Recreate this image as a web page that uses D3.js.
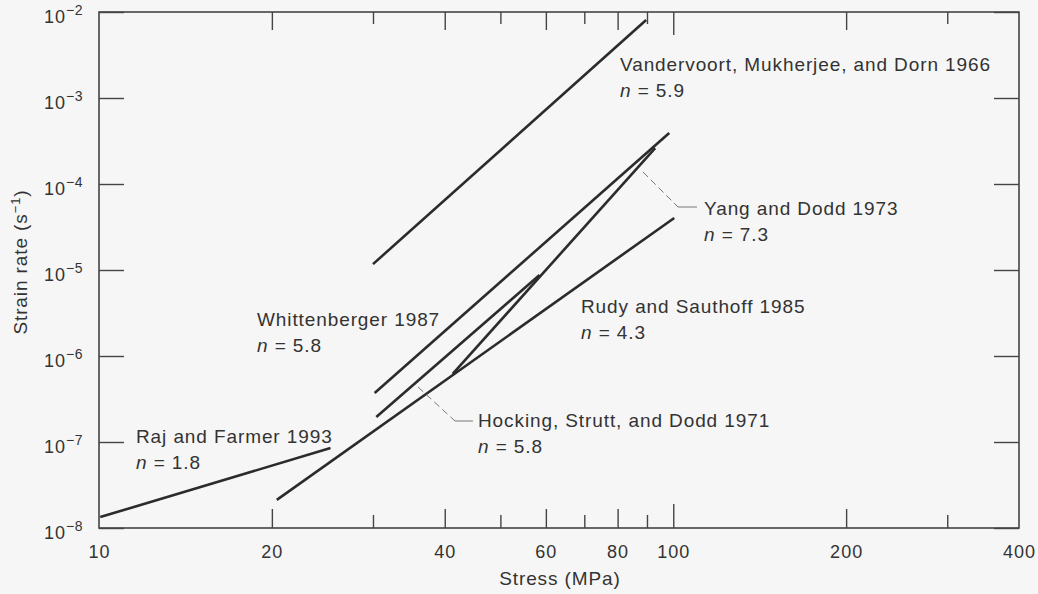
<!DOCTYPE html>
<html>
<head>
<meta charset="utf-8">
<script src="https://cdn.jsdelivr.net/npm/d3@7"></script>
<style>
body { margin: 0; background: #f6f6f6; }
svg { display: block; font-family: "Liberation Sans", Arial, sans-serif; }
.axis .domain { display: none; }
.axis line { stroke: #444; stroke-width: 1.4; }
.axis text { fill: #333; font-size: 18px; letter-spacing: 1px; font-family: "Liberation Sans", Arial, sans-serif; }
.creep { fill: none; stroke: #2b2b2b; stroke-width: 2.6; }
.lbl { fill: #333; font-size: 19px; letter-spacing: 0.9px; }
.leader { fill: none; stroke: #777; stroke-width: 1; }
</style>
</head>
<body>
<div id="chart"></div>
<script>
// axis ticks
var stressLabels = [10, 20, 40, 60, 80, 100, 200, 400];
var stressMajor = [20, 40, 60, 80, 200];
var stressMinor = [30, 50, 70, 90, 300];
var stressHundred = [100];
var rateTicks = [1e-8, 1e-7, 1e-6, 1e-5, 1e-4, 1e-3, 1e-2];

// creep lines, [stress MPa, strain rate 1/s] end points
var vandervoort = [[30.0, 1.17e-5], [89.7, 8.07e-3]];
var whittenberger = [[30.2, 3.72e-7], [98.4, 3.92e-4]];
var hocking = [[30.4, 1.95e-7], [58.5, 8.75e-6]];
var yang = [[41.3, 6.18e-7], [93.0, 2.62e-4]];
var rudy = [[20.4, 2.12e-8], [100.4, 4.03e-5]];
var raj = [[10.05, 1.34e-8], [25.3, 8.5e-8]];

var seriesNames = ["Vandervoort, Mukherjee, and Dorn 1966", "Yang and Dodd 1973", "Rudy and Sauthoff 1985",
    "Whittenberger 1987", "Hocking, Strutt, and Dodd 1971", "Raj and Farmer 1993"];
var nValues = ["5.9", "7.3", "4.3", "5.8", "5.8", "1.8"];

var width = 1038, height = 594;
var pLeft = 99, pRight = 1019, pTop = 12, pBottom = 528;

var svg = d3.select("#chart").append("svg")
    .attr("width", width)
    .attr("height", height);

var x = d3.scaleLog().domain([10, 400]).range([pLeft, pRight]);
var y = d3.scaleLog().domain([1e-8, 1e-2]).range([pBottom, pTop]);

//枠
svg.append("rect")
    .attr("x", pLeft).attr("y", pTop)
    .attr("width", pRight - pLeft).attr("height", pBottom - pTop)
    .attr("fill", "none").attr("stroke", "#444").attr("stroke-width", 1.6);

//x目盛 (内向き)
function xTicks(vals, sizeB, sizeT){
    svg.append("g").attr("class", "axis")
        .attr("transform", "translate(0," + pBottom + ")")
        .call(d3.axisBottom(x).tickValues(vals).tickSize(-sizeB).tickFormat(""));
    svg.append("g").attr("class", "axis")
        .attr("transform", "translate(0," + pTop + ")")
        .call(d3.axisTop(x).tickValues(vals).tickSize(-sizeT).tickFormat(""));
}
xTicks(stressMajor, 19, 18);
xTicks(stressMinor, 13, 12);
xTicks(stressHundred, 24, 23);

svg.append("g").attr("class", "axis")
    .attr("transform", "translate(0," + pBottom + ")")
    .call(d3.axisBottom(x).tickValues(stressLabels).tickSize(0).tickPadding(17).tickFormat(d3.format("d")));

//y目盛
svg.append("g").attr("class", "axis")
    .attr("transform", "translate(" + pLeft + ",0)")
    .call(d3.axisLeft(y).tickValues(rateTicks).tickSize(-25).tickPadding(16))
    .selectAll(".tick text")
    .attr("dy", "0.6em")
    .text(null)
    .each(function(d){
        var t = d3.select(this);
        t.append("tspan").text("10");
        t.append("tspan").attr("dy", -8).attr("font-size", 14).attr("letter-spacing", 0.5)
            .text("\u2212" + Math.round(-Math.log10(d)));
    });

svg.append("g").attr("class", "axis")
    .attr("transform", "translate(" + pRight + ",0)")
    .call(d3.axisRight(y).tickValues(rateTicks).tickSize(-25).tickFormat(""));

//軸タイトル
svg.append("text")
    .attr("x", (pLeft + pRight) / 2 + 1).attr("y", 585)
    .attr("text-anchor", "middle")
    .attr("class", "lbl").attr("font-size", 18).attr("letter-spacing", 1)
    .text("Stress (MPa)");

var yTitle = svg.append("text")
    .attr("transform", "translate(27,262) rotate(-90)")
    .attr("text-anchor", "middle")
    .attr("class", "lbl").attr("font-size", 18).attr("letter-spacing", 1);
yTitle.append("tspan").text("Strain rate (s");
yTitle.append("tspan").attr("dy", -7).attr("font-size", 13).text("\u22121");
yTitle.append("tspan").attr("dy", 7).text(")");

//線
var line = d3.line()
    .x(function(d){ return x(d[0]); })
    .y(function(d){ return y(d[1]); });

[vandervoort, whittenberger, hocking, yang, rudy, raj].forEach(function(s){
    svg.append("path").attr("class", "creep").attr("d", line(s));
});

//引き出し線
svg.append("path").attr("class", "leader").attr("stroke-dasharray", "7,4")
    .attr("d", "M643,172L678,207");
svg.append("path").attr("class", "leader").attr("d", "M678,207L697,207");
svg.append("path").attr("class", "leader").attr("stroke-dasharray", "7,4")
    .attr("d", "M418,387L455,421");
svg.append("path").attr("class", "leader").attr("d", "M455,421L473,421");

//ラベル
var labelPos = [[620, 71], [704, 215], [581, 313], [257, 326], [478, 427], [136, 443]];
seriesNames.forEach(function(name, i){
    var p = labelPos[i];
    svg.append("text").attr("class", "lbl")
        .attr("x", p[0]).attr("y", p[1]).text(name);
    var t = svg.append("text").attr("class", "lbl")
        .attr("x", p[0]).attr("y", p[1] + 26);
    t.append("tspan").attr("font-style", "italic").text("n");
    t.append("tspan").text(" = " + nValues[i]);
});
</script>
</body>
</html>
